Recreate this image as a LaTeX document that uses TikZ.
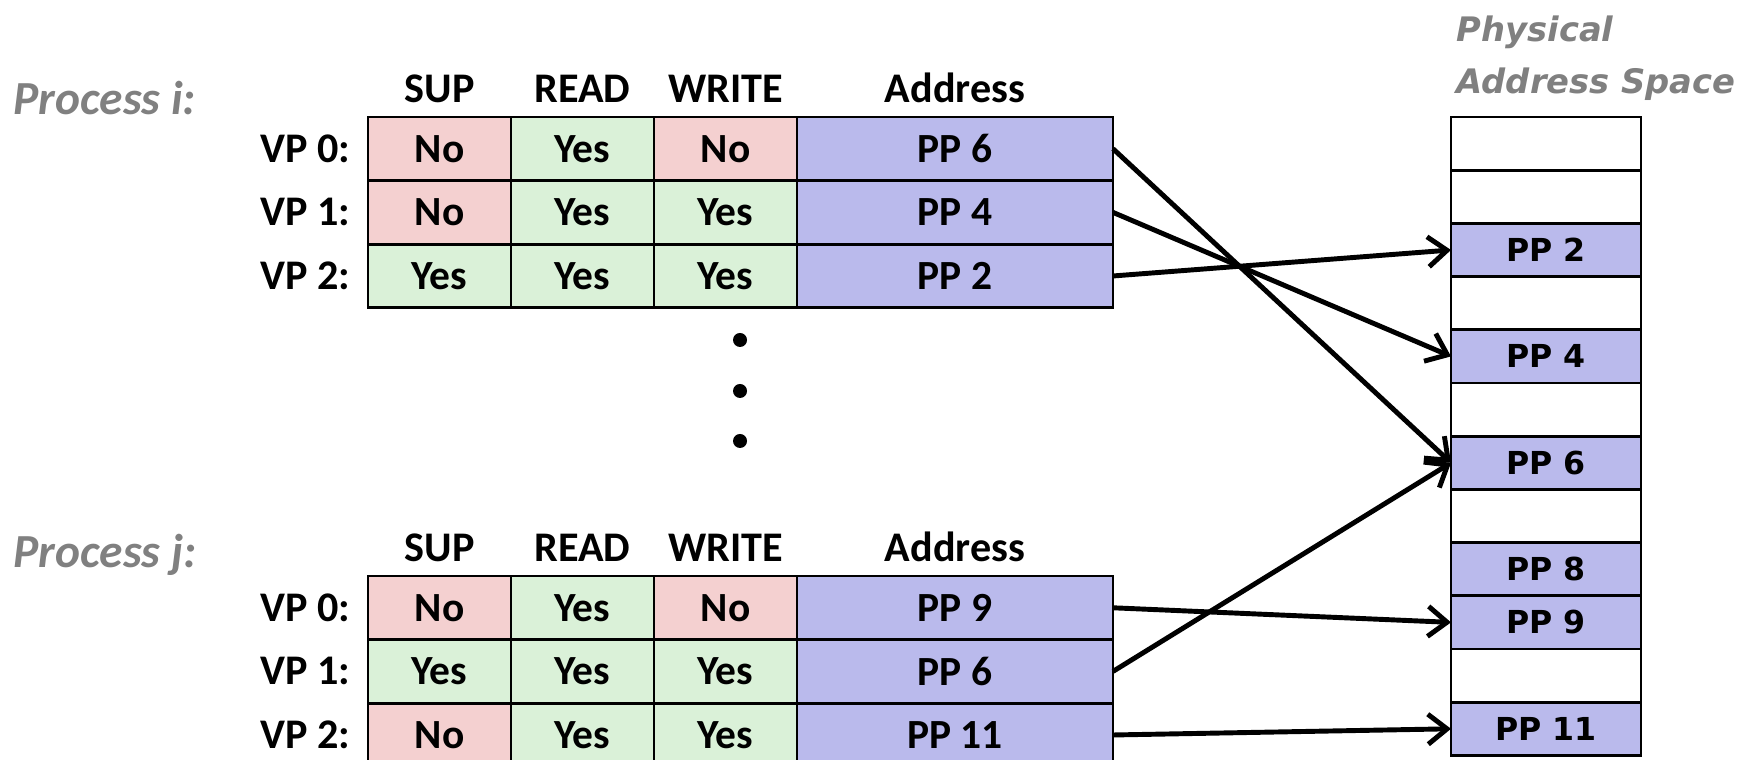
\documentclass[tikz,border=0pt]{standalone}
\usepackage{fontspec}
\setmainfont{Carlito}
\newfontfamily\physfont{DejaVu Sans}
\usetikzlibrary{arrows.meta,positioning}
\definecolor{Nocell}{RGB}{244,208,208}
\definecolor{Yescell}{RGB}{218,241,216}
\definecolor{ppcell}{RGB}{186,186,236}
\definecolor{labelgray}{RGB}{128,128,128}

\begin{document}
\begin{tikzpicture}[
  cell/.style={draw, line width=0.8pt, outer sep=0pt, minimum height=0.636cm, inner sep=0pt, font=\fontsize{11.8}{13}\selectfont\bfseries},
  flag/.style={cell, minimum width=1.43cm},
  addr/.style={cell, fill=ppcell, minimum width=3.16cm},
  hdr/.style={font=\fontsize{12}{14}\selectfont\bfseries},
  proc/.style={anchor=west, inner sep=0pt, text=labelgray, font=\fontsize{13.5}{16}\selectfont\bfseries\itshape},
  physlbl/.style={anchor=west, inner sep=0pt, text=labelgray, font=\physfont\fontsize{9.6}{12}\selectfont\bfseries\itshape},
  slot/.style={draw, line width=0.8pt, outer sep=0pt, minimum width=1.9cm, minimum height=0.532cm, inner sep=0pt, font=\physfont\fontsize{9}{11}\selectfont\bfseries},
  map/.style={line width=1.4pt, -{Straight Barb[length=1.9mm,width=3mm]}}
]
\useasboundingbox (0,0) rectangle (17.5,7.6);

% process i page table
\node[proc] (proci) at (0.13,6.62) {Process i:};
\foreach \r/\s/\rd/\w/\pp in {0/No/Yes/No/6, 1/No/Yes/Yes/4, 2/Yes/Yes/Yes/2} {
  \node[flag, fill=\s cell] (isup\r) at (4.395,6.112-0.636*\r) {\s};
  \node[flag, fill=\rd cell, right=0pt of isup\r] (iread\r) {\rd};
  \node[flag, fill=\w cell, right=0pt of iread\r] (iwrite\r) {\w};
  \node[addr, right=0pt of iwrite\r] (iaddr\r) {PP \pp};
  \node[hdr, left=0.05cm of isup\r] (ivp\r) {VP \r:};
}
\node[hdr, above=0.02cm of isup0] (isuph) {SUP};
\node[hdr, above=0.02cm of iread0] (ireadh) {READ};
\node[hdr, above=0.02cm of iwrite0] (iwriteh) {WRITE};
\node[hdr, above=0.02cm of iaddr0] (iaddrh) {Address};

% dots
\foreach \y in {4.20,3.69,3.19}
  \fill (7.40,\y) circle (.07);

% process j page table
\node[proc] (procj) at (0.13,2.05) {Process j:};
\foreach \r/\s/\rd/\w/\pp in {0/No/Yes/No/9, 1/Yes/Yes/Yes/6, 2/No/Yes/Yes/11} {
  \node[flag, fill=\s cell] (jsup\r) at (4.395,1.522-0.636*\r) {\s};
  \node[flag, fill=\rd cell, right=0pt of jsup\r] (jread\r) {\rd};
  \node[flag, fill=\w cell, right=0pt of jread\r] (jwrite\r) {\w};
  \node[addr, right=0pt of jwrite\r] (jaddr\r) {PP \pp};
  \node[hdr, left=0.05cm of jsup\r] (jvp\r) {VP \r:};
}
\node[hdr, above=0.02cm of jsup0] (jsuph) {SUP};
\node[hdr, above=0.02cm of jread0] (jreadh) {READ};
\node[hdr, above=0.02cm of jwrite0] (jwriteh) {WRITE};
\node[hdr, above=0.02cm of jaddr0] (jaddrh) {Address};

% physical memory
\node[physlbl] (physa) at (14.56,7.28) {Physical};
\node[physlbl] (physb) at (14.56,6.76) {Address Space};
\foreach \k in {0,1,3,5,7,10}
  \node[slot, fill=white] (pm\k) at (15.46,6.164-0.532*\k) {};
\foreach \k in {2,4,6,8,9,11}
  \node[slot, fill=ppcell] (pm\k) at (15.46,6.164-0.532*\k) {PP \k};

% mappings
\draw[map] (iaddr0.east) -- (pm6.west);
\draw[map] (iaddr1.east) -- (pm4.west);
\draw[map] (iaddr2.east) -- (pm2.west);
\draw[map] (jaddr0.east) -- (pm9.west);
\draw[map] (jaddr1.east) -- (pm6.west);
\draw[map] (jaddr2.east) -- (pm11.west);
\end{tikzpicture}
\end{document}
